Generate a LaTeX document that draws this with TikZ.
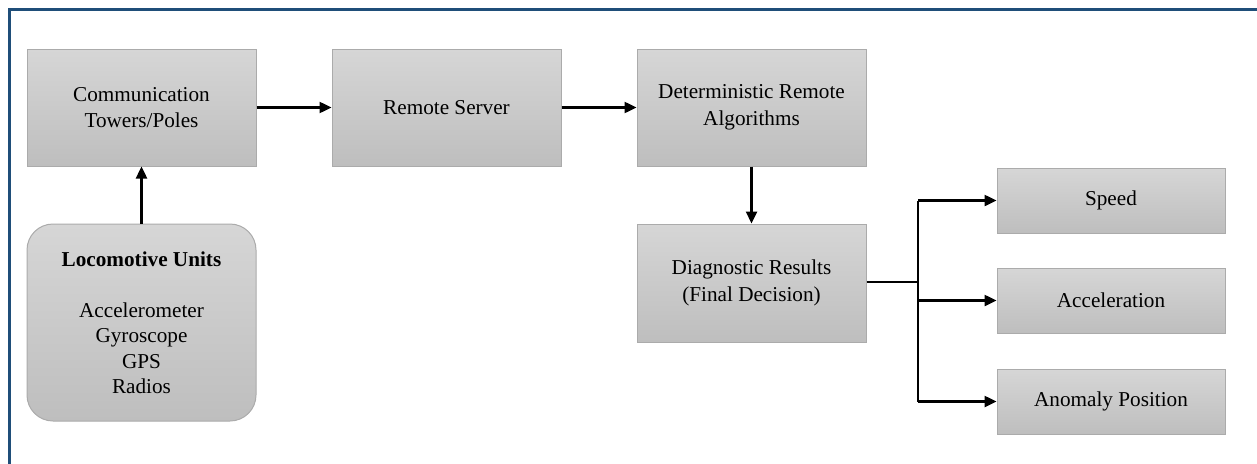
\documentclass[tikz,border=0pt]{standalone}
\usepackage{fontspec}
\setmainfont{Liberation Serif}
\usetikzlibrary{arrows.meta}
\definecolor{framec}{HTML}{1F4E79}
\definecolor{boxtop}{HTML}{D6D6D6}
\definecolor{boxbot}{HTML}{BEBEBE}
\definecolor{boxline}{HTML}{ABABAB}
\tikzset{
  blk/.style={draw=boxline, line width=1pt, top color=boxtop, bottom color=boxbot,
    align=center, inner sep=0pt, font=\fontsize{21.2}{26.5}\selectfont},
  wide/.style={blk, minimum width=229pt, minimum height=117pt},
  outbox/.style={blk, minimum width=228pt, minimum height=65pt},
  arr/.style={line width=2.4pt, -{Triangle[length=12pt,width=11pt]}},
  ln/.style={line width=2.4pt}
}
\begin{document}
\begin{tikzpicture}[x=1pt,y=-1pt]
\useasboundingbox (0,0) rectangle (1257,463);
% outer frame (open on the right and bottom)
\draw[framec, line width=3pt] (9,470) -- (9,9) -- (1265,9);

\node[wide] (comm) at (141.5,107.5) {Communication\\Towers/Poles};
\node[wide] (remote) at (446.5,107.5) {Remote Server};
\node[wide] (algo) at (751.5,107.5) {Deterministic Remote\\Algorithms};
\node[wide, minimum height=118pt] (diag) at (751.5,283) {Diagnostic Results\\(Final Decision)};
\node[blk, rounded corners=26pt, minimum width=229pt, minimum height=197pt, font=\fontsize{21.2}{25.5}\selectfont] (loco) at (141.5,322.5)
  {\textbf{Locomotive Units}\\[25.5pt]Accelerometer\\Gyroscope\\GPS\\Radios};
\node[outbox] (speed) at (1111,200.5) {Speed};
\node[outbox] (accel) at (1111,300.5) {Acceleration};
\node[outbox] (anom) at (1111,401.5) {Anomaly Position};

\draw[arr] (loco) -- (comm);
\draw[arr] (comm) -- (remote);
\draw[arr] (remote) -- (algo);
\draw[arr] (algo) -- (diag);

\coordinate (split) at (918,282);
\draw[ln] (diag.east |- split) -- (split);
\draw[ln] (split |- speed) -- (split |- anom);
\draw[arr] (split |- speed) -- (speed);
\draw[arr] (split |- accel) -- (accel);
\draw[arr] (split |- anom) -- (anom);
\end{tikzpicture}
\end{document}
